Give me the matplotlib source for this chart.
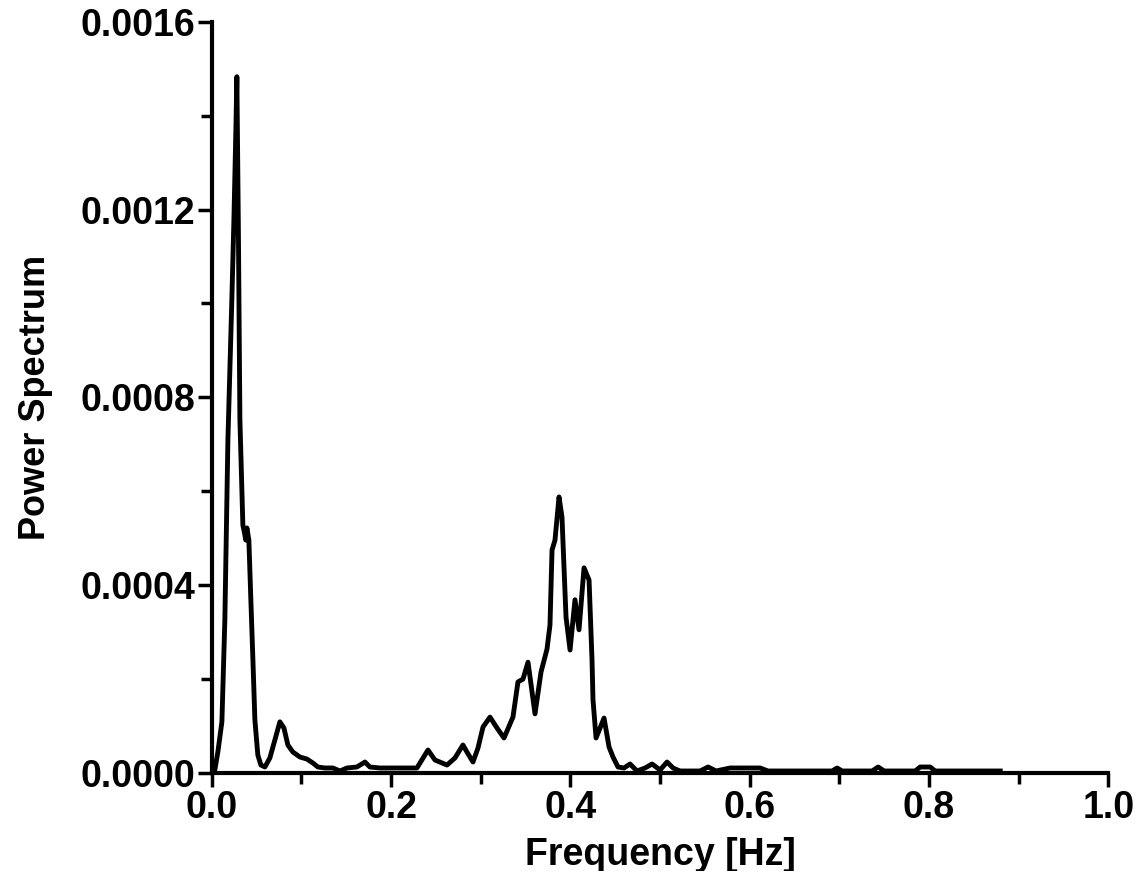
import matplotlib
matplotlib.use("Agg")
import matplotlib.pyplot as plt
from matplotlib.ticker import MultipleLocator

# frequency [Hz] and power values
freq = [0.0000, 0.0033, 0.0067, 0.0112, 0.0145, 0.0179, 0.0201, 0.0223, 0.0246, 0.0268,
        0.0279, 0.0296, 0.0313, 0.0346, 0.0357, 0.0379, 0.0391, 0.0413, 0.0435, 0.0458,
        0.0480, 0.0513, 0.0547, 0.0592, 0.0647, 0.0703, 0.0759, 0.0804, 0.0848, 0.0904,
        0.0982, 0.1060, 0.1127, 0.1183, 0.1261, 0.1350, 0.1429, 0.1507, 0.1618, 0.1708,
        0.1763, 0.1875, 0.2288, 0.2411, 0.2489, 0.2623, 0.2712, 0.2801, 0.2846, 0.2913,
        0.2969, 0.3025, 0.3103, 0.3181, 0.3259, 0.3359, 0.3415, 0.3471, 0.3527, 0.3605,
        0.3672, 0.3739, 0.3772, 0.3795, 0.3828, 0.3873, 0.3906, 0.3951, 0.3996, 0.4051,
        0.4096, 0.4152, 0.4208, 0.4241, 0.4252, 0.4286, 0.4375, 0.4431, 0.4475, 0.4531,
        0.4598, 0.4665, 0.4743, 0.4833, 0.4911, 0.5000, 0.5078, 0.5145, 0.5223, 0.5446,
        0.5536, 0.5625, 0.5781, 0.5949, 0.6116, 0.6205, 0.6920, 0.6975, 0.7031, 0.7366,
        0.7433, 0.7500, 0.7846, 0.7902, 0.8013, 0.8069, 0.8795]

power = [0.0, 0.0000064, 0.0000447, 0.000109, 0.000326, 0.000709, 0.000859, 0.001008, 0.001178, 0.00137,
         0.001483, 0.001157, 0.000752, 0.000528, 0.000518, 0.000496, 0.000522, 0.000496, 0.000369, 0.000241,
         0.000113, 0.0000383, 0.000017, 0.0000128, 0.000032, 0.0000703, 0.000109, 0.0000959, 0.0000597, 0.0000447,
         0.0000341, 0.0000298, 0.0000213, 0.0000128, 0.0000107, 0.0000107, 0.0000043, 0.0000107, 0.0000128, 0.0000234,
         0.0000128, 0.0000107, 0.0000107, 0.000049, 0.0000277, 0.000017, 0.000032, 0.0000597, 0.0000447, 0.0000234,
         0.0000533, 0.000098, 0.000119, 0.0000959, 0.0000746, 0.000119, 0.000194, 0.0002, 0.000236, 0.000126,
         0.000215, 0.000264, 0.000315, 0.000475, 0.000496, 0.000588, 0.000545, 0.000332, 0.000262, 0.000369,
         0.000305, 0.000437, 0.000411, 0.000241, 0.000156, 0.0000746, 0.000117, 0.0000554, 0.0000341, 0.0000128,
         0.0000107, 0.0000192, 0.0000043, 0.0000107, 0.0000192, 0.0000064, 0.0000234, 0.0000107, 0.0000043, 0.0000043,
         0.0000128, 0.0000043, 0.0000107, 0.0000107, 0.0000107, 0.0000043, 0.0000043, 0.0000107, 0.0000043, 0.0000043,
         0.0000128, 0.0000043, 0.0000043, 0.0000128, 0.0000128, 0.0000043, 0.0000043]

plt.rcParams['font.family'] = ['Liberation Sans', 'DejaVu Sans']
plt.rcParams['font.weight'] = 'bold'

fig = plt.figure(figsize=(11.39, 8.71), dpi=100)
ax = fig.add_axes([0.186, 0.1125, 0.787, 0.8625])

ax.plot(freq, power, color='black', linewidth=3.5, solid_joinstyle='round')

ax.set_xlim(0, 1.0)
ax.set_ylim(0, 0.0016)
ax.xaxis.set_major_locator(MultipleLocator(0.2))
ax.xaxis.set_minor_locator(MultipleLocator(0.1))
ax.yaxis.set_major_locator(MultipleLocator(0.0004))
ax.yaxis.set_minor_locator(MultipleLocator(0.0002))
ax.xaxis.set_major_formatter(plt.FormatStrFormatter('%.1f'))
ax.yaxis.set_major_formatter(plt.FormatStrFormatter('%.4f'))

for s in ['top', 'right']:
    ax.spines[s].set_visible(False)
for s in ['left', 'bottom']:
    ax.spines[s].set_linewidth(3)

ax.tick_params(which='major', direction='out', length=10, width=2.5, labelsize=27, pad=2)
ax.tick_params(which='minor', direction='out', length=8, width=2.5)
for lbl in ax.get_xticklabels() + ax.get_yticklabels():
    lbl.set_fontweight('bold')

ax.set_xlabel('Frequency [Hz]', fontsize=27, fontweight='bold', labelpad=8)
ax.set_ylabel('Power Spectrum', fontsize=26, fontweight='bold', labelpad=20)

fig.savefig('out.png', dpi=100)
